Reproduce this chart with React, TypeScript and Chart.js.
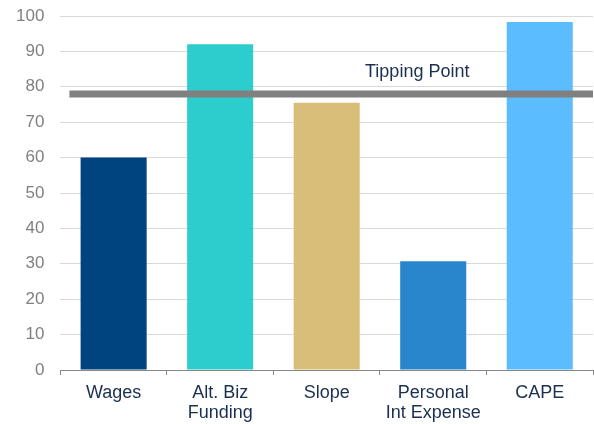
import React, { useEffect, useRef } from "react";
import { Chart, registerables } from "chart.js";

Chart.register(...registerables);

const categories: (string | string[])[] = [
  "Wages",
  ["Alt. Biz", "Funding"],
  "Slope",
  ["Personal", "Int Expense"],
  "CAPE",
];
const values = [60, 92, 75.5, 30.7, 98.3];
const barColors = ["#00447F", "#2ECDCD", "#D8BE78", "#2986CC", "#5BBDFE"];
const tippingValue = 78;
const tippingLabel = "Tipping Point";
const yTicksMin = 0;
const yTicksMax = 100;
const yStep = 10;

const labelPlugin = {
  id: "tippingLabel",
  afterDatasetsDraw(chart: any) {
    const { ctx, scales } = chart;
    const x2 = scales.x2;
    const y = scales.y;
    ctx.save();
    ctx.font = "18px 'Liberation Sans', Arial, sans-serif";
    ctx.fillStyle = "#1B2F4E";
    ctx.textAlign = "center";
    ctx.textBaseline = "middle";
    ctx.fillText(tippingLabel, x2.getPixelForValue(3.35), y.getPixelForValue(84.2));
    ctx.restore();
  },
};

export default function App() {
  const ref = useRef<HTMLCanvasElement>(null);
  useEffect(() => {
    if (!ref.current) return;
    const chart = new Chart(ref.current, {
      type: "bar",
      data: {
        labels: categories as any,
        datasets: [
          {
            type: "line",
            data: [
              { x: 0.085, y: tippingValue },
              { x: 5, y: tippingValue },
            ],
            xAxisID: "x2",
            yAxisID: "y",
            borderColor: "#808080",
            borderWidth: 7,
            pointRadius: 0,
            order: 0,
            clip: false as any,
          } as any,
          {
            type: "bar",
            data: values,
            xAxisID: "x",
            yAxisID: "y",
            backgroundColor: barColors,
            categoryPercentage: 1,
            barPercentage: 0.62,
            grouped: false,
            order: 1,
          } as any,
        ],
      },
      options: {
        animation: false,
        responsive: false,
        maintainAspectRatio: false,
        layout: { padding: { top: 16, right: 1, left: 0, bottom: 0 } },
        plugins: { legend: { display: false }, tooltip: { enabled: false } },
        scales: {
          x: {
            type: "category",
            offset: true,
            grid: {
              offset: true,
              drawOnChartArea: false,
              drawTicks: true,
              tickLength: 5,
              color: "#888888",
            },
            border: { display: true, color: "#888888", width: 1 },
            ticks: {
              color: "#1B2F4E",
              font: { size: 18, family: "'Liberation Sans', Arial, sans-serif", lineHeight: 1.11 },
              padding: 8,
              maxRotation: 0,
              autoSkip: false,
            },
            afterFit(scale: any) {
              scale.height = 54;
            },
          } as any,
          x2: {
            type: "linear",
            display: false,
            offset: false,
            min: 0,
            max: 5,
            grid: { offset: false },
          },
          y: {
            min: yTicksMin,
            max: yTicksMax,
            ticks: {
              stepSize: yStep,
              color: "#808080",
              font: { size: 17, family: "'Liberation Sans', Arial, sans-serif" },
              padding: 16,
            },
            grid: { color: "#D9D9D9", drawTicks: false, lineWidth: 1 },
            border: { display: false },
            afterFit(scale: any) {
              scale.paddingTop = 0;
              scale.paddingBottom = 0;
            },
          } as any,
        },
      },
      plugins: [labelPlugin],
    });
    return () => chart.destroy();
  }, []);
  return (
    <div style={{ position: "absolute", left: 0, top: 0, width: 594, height: 424, background: "#fff" }}>
      <canvas ref={ref} width={594} height={424} style={{ width: 594, height: 424 }} />
    </div>
  );
}
